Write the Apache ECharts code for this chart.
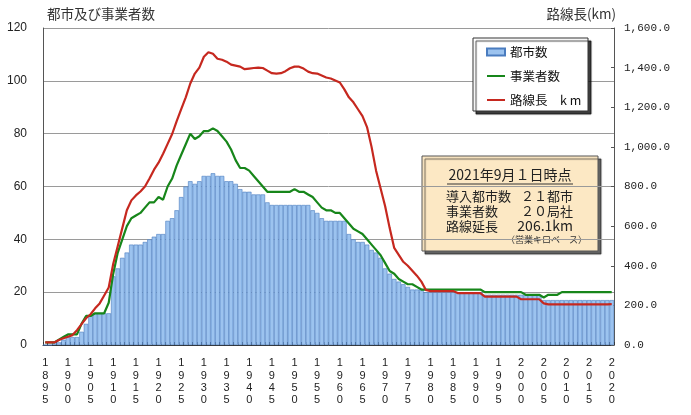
<!DOCTYPE html>
<html>
<head>
<meta charset="utf-8">
<script src="https://cdn.jsdelivr.net/npm/echarts@6/dist/echarts.min.js"></script>
<style>
  html, body { margin: 0; padding: 0; background: #fff; }
  #main { width: 691px; height: 415px; }
</style>
</head>
<body>
<div id="main"></div>
<script>
// 年 (1895 - 2020)
var years = [];
for (var y = 1895; y <= 2020; y++) years.push(String(y));

// 都市数 (左軸)
var cities = [
  0, 0, 1, 1, 2,        3, 3, 3, 5, 8,
  11, 12, 12, 12, 12,   26, 29, 33, 35, 38,
  38, 38, 39, 40, 41,   42, 42, 47, 48, 51,
  56, 60, 62, 61, 62,   64, 64, 65, 64, 64,
  62, 62, 61, 59, 58,   58, 57, 57, 57, 54,
  53, 53, 53, 53, 53,   53, 53, 53, 53, 51,
  50, 48, 47, 47, 47,   47, 47, 42, 40, 39,
  39, 38, 36, 35, 33,   29, 27, 25, 24, 23,
  22, 21, 21, 21, 20,   20, 20, 20, 20, 20,
  20, 20, 20, 20, 20,   20, 20, 19, 19, 19,
  19, 19, 19, 19, 19,   19, 19, 19, 19, 19,
  17, 17, 17, 17, 17,   17, 17, 17, 17, 17,
  17, 17, 17, 17, 17,   17
];

// 事業者数 (左軸)
var operators = [
  1, 1, 1, 2, 3,        4, 4, 4, 8, 11,
  11, 12, 12, 12, 16,   27, 35, 40, 45, 48,
  49, 50, 52, 54, 54,   56, 55, 60, 63, 68,
  72, 76, 80, 78, 79,   81, 81, 82, 81, 79,
  77, 74, 70, 67, 67,   66, 64, 62, 60, 58,
  58, 58, 58, 58, 58,   59, 58, 58, 57, 56,
  54, 52, 51, 51, 50,   50, 48, 46, 44, 43,
  42, 40, 38, 36, 34,   31, 28, 27, 25, 24,
  23, 23, 22, 21, 21,   21, 21, 21, 21, 21,
  21, 21, 21, 21, 21,   21, 21, 20, 20, 20,
  20, 20, 20, 20, 20,   20, 19, 19, 19, 19,
  18, 19, 19, 19, 20,   20, 20, 20, 20, 20,
  20, 20, 20, 20, 20,   20
];

// 路線長 km (右軸)
var routeKm = [
  13, 13, 13, 25, 34,         42, 50, 75, 105, 135,
  155, 185, 210, 250, 290,    410, 500, 590, 680, 730,
  755, 775, 800, 840, 885,    920, 965, 1015, 1065, 1130,
  1190, 1250, 1320, 1370, 1400, 1455, 1478, 1470, 1445, 1440,
  1430, 1415, 1410, 1405, 1392, 1395, 1398, 1400, 1398, 1385,
  1372, 1370, 1372, 1382, 1397, 1405, 1405, 1395, 1380, 1372,
  1370, 1360, 1350, 1345, 1335, 1325, 1290, 1250, 1225, 1190,
  1155, 1100, 1000, 880, 790,  700, 590, 490, 455, 420,
  400, 375, 350, 320, 278,     272, 272, 272, 272, 272,
  272, 262, 262, 262, 262,     262, 262, 244, 244, 244,
  244, 244, 244, 244, 244,     231, 231, 231, 231, 231,
  210, 205, 205, 205, 205,     205, 205, 205, 205, 205,
  205, 205, 205, 205, 205,     206
];

var legendNames = ['都市数', '事業者数', '路線長　k m'];

var jp = '"Noto Sans CJK JP", sans-serif';
// 凡例の線アイコン (枠 18x7 の中央に横線)
var lineIcon = 'path://M0,0L0.01,0Z M0,2.4H18V4.6H0Z M18,7L17.99,7Z';

var myChart = echarts.init(document.getElementById('main'));

var option = {
  backgroundColor: '#fff',
  animation: false,
  grid: { left: 43, right: 77, top: 28, bottom: 70 },
  legend: {
    orient: 'vertical',
    left: 486,
    top: 45,
    padding: 0,
    itemWidth: 18,
    itemHeight: 7,
    itemGap: 10,
    z: 60,
    textStyle: { fontFamily: jp, fontSize: 12.5, color: '#111', lineHeight: 14 },
    data: [
      { name: legendNames[0], icon: 'rect' },
      { name: legendNames[1], icon: lineIcon },
      { name: legendNames[2], icon: lineIcon }
    ]
  },
  xAxis: {
    type: 'category',
    data: years,
    boundaryGap: true,
    axisLine: { lineStyle: { color: '#333', width: 1 } },
    axisTick: { show: true, interval: 0, inside: true, length: 3, lineStyle: { color: '#333' } },
    axisLabel: {
      interval: 4,
      margin: 12,
      fontFamily: 'Liberation Sans',
      fontSize: 11,
      lineHeight: 12.4,
      color: '#222',
      formatter: function (v) { return v.split('').join('\n'); }
    },
    splitLine: { show: false }
  },
  yAxis: [
    {
      type: 'value',
      min: 0, max: 120, interval: 20,
      name: '都市及び事業者数',
      nameLocation: 'end',
      nameGap: 7,
      nameTextStyle: { fontFamily: jp, fontSize: 13.5, color: '#333', align: 'left', padding: [0, 0, 0, 4] },
      axisLine: { show: true, lineStyle: { color: '#555' } },
      axisTick: { show: false },
      axisLabel: { margin: 16, fontFamily: 'Liberation Sans', fontSize: 12, color: '#222' },
      splitLine: { show: true, lineStyle: { color: '#9a9a9a', width: 1 } }
    },
    {
      type: 'value',
      min: 0, max: 1600, interval: 200,
      position: 'right',
      name: '路線長(km)',
      nameLocation: 'end',
      nameGap: 7,
      nameTextStyle: { fontFamily: jp, fontSize: 13.5, color: '#333', align: 'right', padding: [0, -2, 0, 0] },
      axisLine: { show: true, lineStyle: { color: '#555' } },
      axisTick: { show: true, inside: true, length: 3, lineStyle: { color: '#555' } },
      axisLabel: {
        margin: 10,
        fontFamily: '"Liberation Mono", monospace',
        fontSize: 11,
        color: '#222',
        formatter: function (v) {
          return v.toLocaleString('en-US', { minimumFractionDigits: 1, maximumFractionDigits: 1 });
        }
      },
      splitLine: { show: false }
    }
  ],
  graphic: [
    // 凡例の枠
    {
      type: 'rect', z: 50,
      shape: { x: 473, y: 38, width: 115, height: 73 },
      style: { fill: '#fff', stroke: '#333', lineWidth: 1, shadowColor: 'rgba(0,0,0,0.75)', shadowOffsetX: 3, shadowOffsetY: 3, shadowBlur: 1 }
    },
    // 2021年時点の注記
    {
      type: 'group', z: 100,
      children: [
        {
          type: 'rect',
          shape: { x: 422, y: 156, width: 176, height: 95 },
          style: { fill: '#fce8c4', stroke: '#555', lineWidth: 1, shadowColor: 'rgba(0,0,0,0.6)', shadowOffsetX: 3, shadowOffsetY: 3, shadowBlur: 1 }
        },
        {
          type: 'text', x: 510, y: 175,
          style: { text: '2021年9月１日時点', fontFamily: jp, fontSize: 14, fill: '#222', align: 'center', verticalAlign: 'middle' }
        },
        {
          type: 'line',
          shape: { x1: 447, y1: 184, x2: 573, y2: 184 },
          style: { stroke: '#333', lineWidth: 1 }
        },
        {
          type: 'text', x: 446, y: 196,
          style: { text: '導入都市数', fontFamily: jp, fontSize: 13, fill: '#222', align: 'left', verticalAlign: 'middle' }
        },
        {
          type: 'text', x: 573, y: 196,
          style: { text: '２１都市', fontFamily: jp, fontSize: 13, fill: '#222', align: 'right', verticalAlign: 'middle' }
        },
        {
          type: 'text', x: 446, y: 211,
          style: { text: '事業者数', fontFamily: jp, fontSize: 13, fill: '#222', align: 'left', verticalAlign: 'middle' }
        },
        {
          type: 'text', x: 573, y: 211,
          style: { text: '２０局社', fontFamily: jp, fontSize: 13, fill: '#222', align: 'right', verticalAlign: 'middle' }
        },
        {
          type: 'text', x: 446, y: 226,
          style: { text: '路線延長', fontFamily: jp, fontSize: 13, fill: '#222', align: 'left', verticalAlign: 'middle' }
        },
        {
          type: 'text', x: 573, y: 226,
          style: { text: '206.1km', fontFamily: jp, fontSize: 14, fill: '#222', align: 'right', verticalAlign: 'middle' }
        },
        {
          type: 'text', x: 587, y: 240,
          style: { text: '（営業キロベース）', fontFamily: jp, fontSize: 9, fill: '#333', align: 'right', verticalAlign: 'middle' }
        }
      ]
    }
  ],
  series: [
    {
      name: legendNames[0],
      type: 'bar',
      yAxisIndex: 0,
      data: cities,
      barCategoryGap: '0%',
      itemStyle: { color: '#9cc3ef', borderColor: '#4a7cbf', borderWidth: 0.6 }
    },
    {
      name: legendNames[1],
      type: 'line',
      yAxisIndex: 0,
      data: operators,
      symbol: 'none',
      color: '#17861a',
      lineStyle: { color: '#17861a', width: 2.2 }
    },
    {
      name: legendNames[2],
      type: 'line',
      yAxisIndex: 1,
      data: routeKm,
      symbol: 'none',
      color: '#c6281f',
      lineStyle: { color: '#c6281f', width: 2.2 }
    }
  ]
};
myChart.setOption(option);
</script>
</body>
</html>
